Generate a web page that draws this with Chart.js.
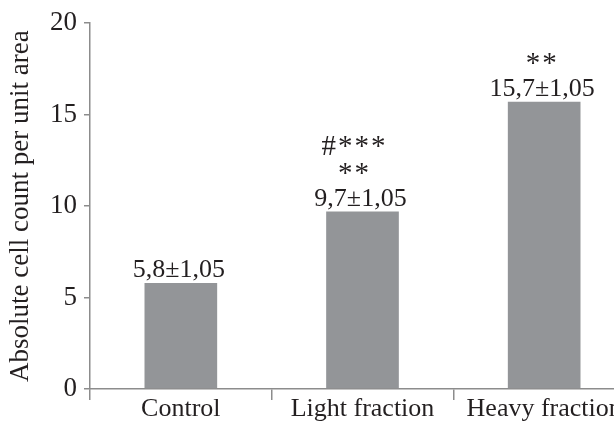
<!DOCTYPE html>
<html>
<head>
<meta charset="utf-8">
<script src="https://cdn.jsdelivr.net/npm/chart.js@4/dist/chart.umd.min.js"></script>
<style>
  html, body { margin: 0; padding: 0; background: #fff; overflow: hidden; }
  #wrap { width: 650px; height: 422px; }
</style>
</head>
<body>
<div id="wrap"><canvas id="c" width="650" height="422"></canvas></div>
<script>
// Groups and mean counts
const categories = ['Control', 'Light fraction', 'Heavy fraction'];
const counts = [5.8, 9.7, 15.7];
const errors = [1.05, 1.05, 1.05];
// Significance marks, listed bottom-up above the value line
const marks = [[], ['**', '#***'], ['**']];
const yTicks = [0, 5, 10, 15, 20];

const AXIS = '#8c8c8c';
const INK = '#231f20';
const SERIF = '"Liberation Serif", "Times New Roman", serif';

function fmt(v) { return String(v).replace('.', ','); }

// horizontal nudge of the mark lines for each bar
const markShift = [0, -9, -3];

const valueLabels = {
  id: 'valueLabels',
  afterDatasetsDraw(chart) {
    const ctx = chart.ctx;
    const meta = chart.getDatasetMeta(0);
    ctx.save();
    ctx.fillStyle = INK;
    ctx.textAlign = 'center';
    ctx.textBaseline = 'alphabetic';
    meta.data.forEach((bar, i) => {
      const base = bar.y - 6;
      ctx.font = '26px ' + SERIF;
      ctx.letterSpacing = '0px';
      ctx.fillText(fmt(counts[i]) + '±' + fmt(errors[i]), bar.x - 2, base);
      marks[i].forEach((t, k) => {
        ctx.font = '29px ' + SERIF;
        ctx.letterSpacing = '2px';
        ctx.fillText(t, bar.x + 1 + markShift[i], base - 24 - k * 27);
      });
    });
    ctx.restore();
  }
};

new Chart(document.getElementById('c'), {
  type: 'bar',
  data: {
    labels: categories,
    datasets: [{
      data: counts,
      backgroundColor: '#939598',
      borderWidth: 0,
      categoryPercentage: 0.4,
      barPercentage: 1.0
    }]
  },
  options: {
    responsive: false,
    animation: false,
    layout: { padding: { left: 0, top: 18, right: 15, bottom: 0 } },
    plugins: { legend: { display: false }, tooltip: { enabled: false } },
    scales: {
      x: {
        afterFit(s) { s.height = 33; },
        border: { color: AXIS, width: 1.5 },
        grid: { drawOnChartArea: false, drawTicks: true, tickLength: 11, color: AXIS, lineWidth: 1.5 },
        ticks: { color: INK, font: { family: SERIF, size: 26 }, padding: -6, maxRotation: 0, autoSkip: false }
      },
      y: {
        min: 0,
        max: 20,
        afterFit(s) { s.width = 90; },
        afterBuildTicks(s) { s.ticks = yTicks.map(v => ({ value: v })); },
        border: { color: AXIS, width: 1.5 },
        grid: { drawOnChartArea: false, drawTicks: true, tickLength: 6, color: AXIS, lineWidth: 1.5 },
        ticks: { color: INK, font: { family: SERIF, size: 27 }, padding: 7 },
        title: {
          display: true,
          text: 'Absolute cell count per unit area',
          color: INK,
          font: { family: SERIF, size: 27 },
          padding: { top: 5, bottom: 0 }
        }
      }
    }
  },
  plugins: [valueLabels]
});
</script>
</body>
</html>
